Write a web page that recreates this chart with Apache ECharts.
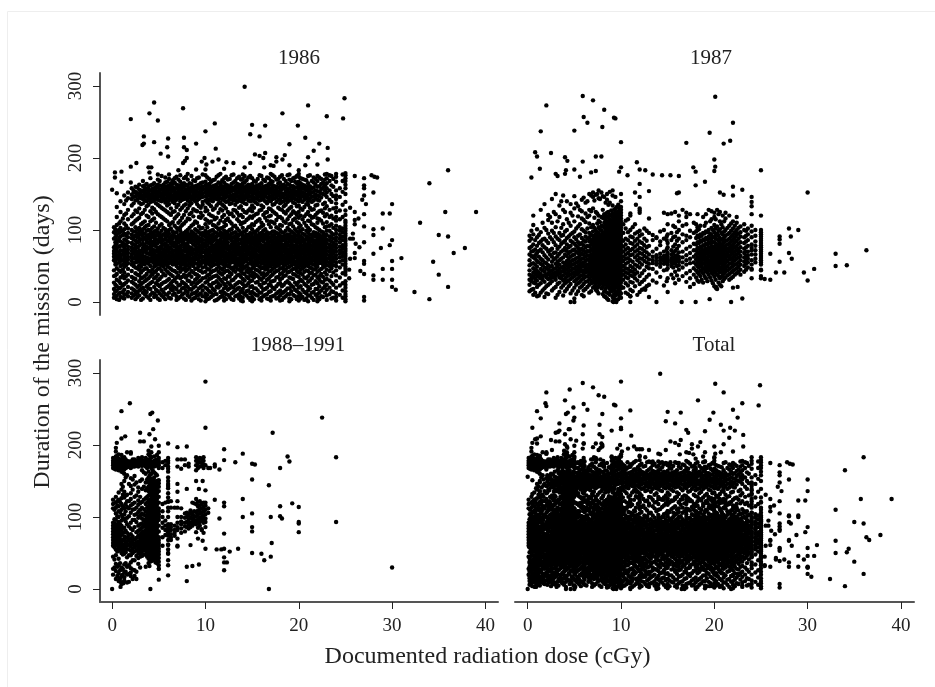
<!DOCTYPE html>
<html><head><meta charset="utf-8">
<style>html,body{margin:0;padding:0;background:#fff}#c{width:935px;height:687px}</style>
<script src="https://cdn.jsdelivr.net/npm/echarts@6/dist/echarts.min.js"></script>
</head><body><div id="c"></div>
<script>
const panelTitles = ['1986','1987','1988–1991','Total'];
const xTicks = [0,10,20,30,40];
const yTicks = [0,100,200,300];
const yTitle = 'Duration of the mission (days)';
const xTitle = 'Documented radiation dose (cGy)';

// Each entry: [dose, [durations read at that dose]]
const columns1986 = [
[0.2,[6,11,18,27,36,44,58,63,67,71,76,88,97,104]],
[0.5,[4,9,16,22,31,39,47,53,60,65,70,74,81,86,93,99,107,118,132,151]],
[0.9,[7,13,20,26,34,42,50,57,62,66,72,78,84,91,98,103,112,125,140]],
[1.3,[5,10,17,25,33,41,49,56,61,64,69,75,80,87,95,101,109,121,136,148]],
[1.7,[8,14,21,30,38,46,54,59,63,68,73,77,83,90,96,102,115,128,144,152]],
[2.1,[6,12,19,28,35,43,52,57,62,66,71,76,82,89,94,100,108,119,134,143,149,158]],
[2.5,[4,11,15,24,32,40,48,55,60,65,70,74,79,85,92,98,104,113,127,141,147,153,160]],
[2.9,[9,16,23,29,37,45,51,58,63,67,72,78,84,88,93,97,103,117,130,138,145,150,156,163]],
[3.3,[5,13,20,27,34,44,53,56,61,64,69,75,81,86,91,96,101,110,124,137,143,148,154,161,168]],
[3.7,[8,14,22,31,39,47,55,59,62,68,73,77,83,87,92,99,106,120,133,140,146,151,157,164]],
[4.1,[3,10,18,26,36,42,50,57,60,66,71,76,80,85,90,95,100,112,126,139,144,149,155,162,172]],
[4.5,[7,12,21,33,41,49,54,58,63,67,72,79,84,89,94,98,105,116,129,141,147,152,158,165]],
[4.9,[5,15,24,30,38,46,52,56,61,65,70,74,82,86,93,97,102,122,135,142,148,153,159,163,170]],
[5.3,[9,17,25,35,43,51,55,59,64,69,75,78,83,88,92,99,108,118,131,140,145,150,156,161,175]],
[5.7,[4,11,19,28,37,45,53,57,62,66,71,77,81,87,91,96,101,114,127,138,143,149,154,160,166,173]],
[6.1,[6,13,23,32,40,48,54,60,65,68,73,76,84,89,95,100,107,123,136,141,146,151,157,162,171,177]],
[6.5,[10,16,22,29,36,44,52,58,63,67,72,79,83,88,93,98,111,125,139,144,148,155,159,164,169]],
[6.9,[3,8,18,27,34,41,50,56,61,66,70,75,80,86,90,97,103,119,132,142,147,152,158,163,174]],
[7.3,[7,15,24,33,42,49,55,59,64,69,74,78,85,89,94,99,104,113,128,140,145,150,156,161,167,176]],
[7.7,[5,12,20,26,38,47,53,57,62,65,71,76,82,87,92,96,109,121,134,143,148,153,160,165,172]],
[8.1,[9,14,21,30,37,45,51,58,63,68,72,77,81,86,91,95,100,116,130,141,146,151,157,162,170,178]],
[8.5,[2,11,17,25,35,43,52,56,60,66,70,75,83,88,93,98,106,124,137,142,147,154,159,164,175]],
[8.9,[6,13,22,31,39,46,54,59,64,67,73,78,84,90,94,101,112,127,140,145,150,155,161,168]],
[9.3,[4,10,19,28,36,44,50,57,61,65,71,76,80,85,89,97,105,118,133,143,148,152,158,163,173]],
[9.7,[8,16,23,33,41,48,55,58,63,69,74,79,82,87,92,96,103,120,135,139,146,151,156,160,166,177]],
[10.0,[1,7,12,20,27,34,42,49,53,56,60,64,68,72,77,81,86,91,95,99,108,115,126,131,141,147,152,157,162,167,176]],
[10.4,[5,15,24,32,38,45,52,57,62,66,70,75,83,88,93,98,110,122,136,142,148,154,159,164,171]],
[10.8,[9,18,26,35,43,51,55,60,65,69,73,78,84,89,94,100,107,119,128,140,145,150,155,161,169]],
[11.2,[3,11,21,29,37,46,53,58,63,67,72,77,81,86,91,96,104,117,134,143,149,153,158,163,174]],
[11.6,[7,14,23,31,40,47,54,59,64,68,71,76,82,87,92,97,102,113,129,138,144,150,156,160,165,178]],
[12.0,[2,6,13,19,25,33,41,48,52,56,61,65,70,74,79,84,88,93,99,105,111,121,133,141,146,151,155,160,166,172]],
[12.4,[10,17,27,36,44,50,57,62,66,73,78,83,89,94,98,116,125,140,147,152,157,162,170]],
[12.8,[4,12,22,30,39,47,55,60,64,69,75,80,85,90,95,101,109,123,137,143,148,154,159,164,176]],
[13.2,[8,16,24,34,42,49,53,58,63,67,72,77,82,86,91,97,106,127,135,141,146,150,156,161,168]],
[13.6,[5,11,20,28,38,45,52,56,61,66,71,76,81,87,93,99,112,120,131,142,147,153,158,163,174]],
[14.0,[1,6,13,18,25,32,40,46,51,55,59,63,68,73,78,83,88,92,97,103,110,118,128,139,144,149,154,160,165,171,177]],
[14.4,[9,15,23,35,43,50,57,62,65,70,74,79,84,89,94,100,114,124,136,145,150,155,161,169]],
[14.8,[3,12,21,29,37,44,54,58,64,69,75,80,85,90,96,105,119,130,140,146,152,157,162,175]],
[15.0,[1,7,14,22,30,36,41,47,52,56,60,66,71,76,82,86,91,95,101,108,117,126,134,142,148,153,158,164,172]],
[15.4,[10,19,27,38,45,53,58,63,68,73,78,83,88,93,98,111,122,138,144,150,156,161,167]],
[15.8,[4,13,24,33,42,49,55,61,65,70,75,81,85,90,95,103,115,127,141,147,152,158,163,176]],
[16.2,[8,17,26,34,40,48,54,59,64,67,72,77,84,89,94,99,107,121,132,143,149,154,160,170]],
[16.6,[5,11,20,31,39,46,52,57,62,66,71,76,82,87,92,97,113,125,137,145,151,156,162,173]],
[17.0,[2,7,15,23,28,36,43,50,55,60,64,69,74,79,85,90,96,104,112,120,129,140,146,152,157,163,168,178]],
[17.4,[9,18,30,41,48,53,58,63,68,73,78,83,88,93,98,109,124,136,144,150,155,161,174]],
[17.8,[6,14,25,35,44,51,56,61,66,71,76,81,86,91,95,102,118,131,142,148,153,159,165,171]],
[18.2,[3,12,22,33,40,47,54,59,65,69,75,80,85,90,97,106,116,128,139,146,151,157,162,176]],
[18.6,[8,16,27,37,45,52,57,62,67,72,77,82,87,92,99,110,123,135,143,149,154,160,168]],
[19.0,[1,5,11,19,26,34,42,49,55,60,64,68,73,78,84,89,94,100,108,119,130,141,147,152,158,163,170,177]],
[19.4,[10,21,32,39,46,53,58,63,69,74,79,85,90,96,105,114,126,138,145,150,156,161,172]],
[19.8,[4,15,24,36,43,50,56,61,66,71,76,81,86,92,98,111,121,133,142,148,153,159,165,175]],
[20.0,[2,8,13,20,28,35,41,48,54,59,63,67,72,77,83,88,93,97,103,109,117,125,134,140,146,151,156,162,167,174,178]],
[20.4,[7,17,29,38,47,52,57,62,68,73,78,84,89,95,101,115,128,139,147,152,158,163,171]],
[20.8,[5,12,23,33,44,51,56,61,65,70,75,80,87,91,99,106,122,136,144,149,155,160,169]],
[21.2,[9,19,30,40,48,54,59,64,69,74,79,83,88,94,100,112,120,131,143,150,156,161,176]],
[21.6,[3,14,25,37,45,52,58,63,67,72,77,82,86,92,97,107,118,129,141,147,153,159,166,173]],
[22.0,[1,6,11,18,26,34,42,49,53,57,62,66,71,76,81,85,90,95,102,110,116,124,135,142,148,154,160,168,175]],
[22.4,[8,16,28,39,46,55,60,65,70,75,80,86,91,98,113,127,145,151,157,164,171]],
[22.8,[13,22,31,41,50,54,59,64,69,74,79,84,89,94,104,119,130,138,149,155,162,170,177]],
[23.0,[3,9,17,24,32,38,45,51,56,61,66,71,76,82,87,93,99,105,111,122,133,146,152,158,165,172,178]],
[23.5,[5,15,27,36,47,53,58,63,68,73,78,84,90,96,108,120,139,150,162,175]],
[24.0,[2,7,12,20,29,37,44,50,55,60,65,70,75,80,85,90,95,100,106,113,118,125,131,137,143,148,155,167,174,178]],
[24.4,[10,23,34,48,56,62,67,72,77,83,88,93,99,104,115,127,146,158]],
[24.7,[6,16,26,40,52,58,64,69,74,79,86,91,97,102,118,135,153,168,177]],
[25.0,[1,4,8,11,15,20,24,29,38,42,46,49,53,57,60,64,67,71,74,78,81,85,88,92,95,99,102,106,110,113,121,127,139,150,158,163,168,172,176,179]]
];
// Second reading of the same cloud, between the columns above
const between1986 = [
[0.35,[8,15,24,37,52,56,61,68,73,79,83,90,95,101]],
[0.75,[3,12,19,29,44,55,59,64,69,77,85,89,96,100,109]],
[1.15,[6,14,23,37,45,52,58,66,71,78,82,93,99,116]],
[1.5,[11,27,36,51,55,60,67,72,79,85,92,106,123,141]],
[2.3,[9,17,26,33,50,54,61,68,74,80,87,91,98,110,122,137,146,152,155]],
[2.7,[7,13,21,38,47,56,59,64,69,76,83,90,95,101,115,125,142,149,151,159]],
[3.1,[3,18,25,33,41,49,55,60,65,71,80,87,94,99,108,122,136,144,147,152,155]],
[3.5,[11,16,29,36,46,52,57,63,70,74,79,89,95,104,112,128,141,146,150,153,158,162]],
[3.9,[6,19,24,33,43,53,58,61,67,75,82,88,93,100,107,118,135,142,147,152,156,160]],
[4.3,[13,28,38,45,56,59,64,69,73,78,83,91,96,103,114,123,131,140,145,150,154,157,163]],
[4.7,[9,17,26,35,43,51,55,60,65,71,77,81,87,92,99,110,125,137,143,146,151,155,160]],
[5.1,[3,12,22,32,47,53,57,62,67,72,76,85,90,95,106,120,133,141,147,152,156,162,168]],
[5.5,[7,14,27,39,49,54,58,63,68,73,80,86,94,103,116,129,142,146,151,155,158,163]],
[5.9,[10,21,30,42,50,56,61,64,70,74,79,85,92,98,112,125,134,140,145,150,153,157,161,167]],
[6.3,[5,18,26,38,46,55,59,63,69,75,81,87,91,102,109,121,130,143,148,152,156,160,165]],
[6.7,[12,20,31,43,53,57,62,65,71,77,82,91,96,106,116,126,137,141,146,150,154,158,166,172]],
[7.1,[5,14,23,37,47,54,60,64,68,72,76,83,87,92,101,110,122,135,144,149,153,157,162,170]],
[7.5,[10,19,28,35,45,52,56,61,66,71,80,84,90,95,107,117,131,142,146,151,155,159,164]],
[7.9,[3,16,24,34,43,50,55,60,64,70,74,79,88,93,98,112,126,136,144,149,152,156,163,174]],
[8.3,[7,18,29,39,48,54,59,62,67,71,76,85,89,94,103,115,122,134,139,145,150,153,158,165]],
[8.7,[5,12,20,27,41,50,55,58,62,68,73,80,86,92,96,108,119,129,143,146,151,156,160,169]],
[9.1,[9,15,26,33,38,47,53,60,66,70,75,82,87,91,99,110,126,136,141,147,153,157,162,172]],
[9.5,[2,12,21,30,43,52,56,62,67,72,77,84,88,94,102,117,124,131,145,149,154,159,165]],
[10.2,[4,10,18,29,37,46,54,59,64,68,73,79,85,90,96,104,113,127,138,143,149,153,158,163,173]],
[10.6,[7,13,22,33,41,49,56,61,64,71,76,81,86,92,99,112,120,133,141,146,151,156,160,167]],
[11.0,[2,11,16,27,36,44,52,58,62,66,71,74,79,87,90,97,106,115,130,144,148,152,157,162,170]],
[11.4,[5,20,25,34,42,50,55,60,65,70,75,80,84,93,101,109,124,137,142,147,151,155,159,166,176]],
[11.8,[9,15,28,38,45,53,57,63,67,73,78,83,90,95,103,118,127,135,143,149,154,158,161,169]],
[12.2,[4,11,22,32,43,51,55,59,64,69,76,81,86,91,97,107,114,130,139,145,150,153,159,163,174]],
[12.6,[7,19,25,35,41,49,54,58,63,68,72,77,88,92,100,112,122,136,142,147,152,156,160,171]],
[13.0,[3,14,20,31,44,48,56,61,65,71,75,80,84,90,96,105,119,128,141,144,149,155,158,166,177]],
[13.4,[9,18,26,37,46,51,55,60,66,70,74,79,85,89,94,102,115,124,139,146,151,154,160,164,172]],
[13.8,[2,7,15,27,35,43,49,54,59,64,69,75,82,87,95,108,121,133,140,145,148,152,157,162,170]],
[14.2,[11,22,30,39,48,56,61,66,72,77,81,86,91,98,111,125,137,143,147,153,156,159,166,175]],
[14.6,[6,16,26,33,41,47,53,60,67,71,76,83,87,93,104,116,127,141,146,149,154,158,163,173]],
[15.2,[4,12,19,34,40,49,55,62,64,69,74,80,85,89,97,107,120,131,140,145,151,155,160,168]],
[15.6,[9,16,28,36,44,51,56,60,65,72,77,82,87,92,100,113,123,136,143,148,153,157,162,171]],
[16.0,[2,6,13,21,31,39,47,53,58,63,68,74,79,86,91,96,105,110,128,134,142,146,150,155,159,165,175]],
[16.4,[10,18,27,37,45,50,56,61,65,70,75,80,88,93,101,117,124,140,147,152,157,161,168]],
[16.8,[4,14,24,33,42,49,54,59,63,68,73,78,83,90,95,108,119,130,141,145,150,155,159,164,172]],
[17.2,[8,20,29,38,46,52,57,62,66,71,76,81,86,92,98,111,126,135,143,148,153,158,162,167,176]],
[17.6,[5,12,22,34,43,50,55,60,65,70,75,80,84,89,96,104,114,122,139,146,151,156,160,170]],
[18.0,[2,9,16,26,31,39,47,53,58,62,67,72,77,82,87,92,100,107,118,129,137,142,147,152,155,160,166,174]],
[18.4,[6,14,24,36,43,50,56,61,64,70,74,79,86,91,96,112,125,133,140,145,150,158,163,171]],
[18.8,[11,19,29,41,48,54,59,63,68,73,78,83,89,94,103,115,127,139,144,148,153,157,164,176]],
[19.2,[4,15,23,33,44,51,57,61,66,71,75,81,86,91,98,109,122,132,142,146,151,155,161,168]],
[19.6,[8,17,27,38,47,52,56,62,67,72,77,84,88,93,101,116,124,137,143,149,154,159,167,173]],
[20.2,[5,11,22,31,40,45,51,56,60,65,70,75,80,85,91,99,106,120,130,141,145,150,155,160,165,172]],
[20.6,[3,14,25,34,42,49,54,59,64,69,72,77,82,86,94,110,119,132,142,146,151,157,162,170]],
[21.0,[1,9,16,21,28,36,43,50,55,60,66,71,76,81,85,90,96,103,113,125,135,140,145,149,154,159,165,175]],
[21.4,[6,13,24,33,41,47,53,57,62,68,73,78,84,89,93,108,117,128,139,146,152,158,168]],
[21.8,[10,18,29,38,46,51,56,61,65,70,75,80,85,91,96,104,121,134,144,149,155,163,171]],
[22.2,[4,13,22,31,36,44,54,58,63,68,73,78,83,88,93,100,115,126,141,147,153,161,173]],
[22.6,[7,19,27,35,48,52,57,62,67,72,77,82,87,92,97,109,124,136,150,159,166]],
[23.3,[11,20,30,43,50,55,60,65,70,75,80,86,91,99,106,118,128,142,155,168,176]],
[23.7,[6,14,24,41,51,57,62,67,72,77,82,88,94,103,116,130,147,160,171]]
];
// Flat dose, duration pairs for isolated dots
const isolated1986 = [14.2,299,24.9,283,4.5,277,7.6,269,4,262,21,273,18.25,262,2,254,4.9,252,23,258,24.75,255,11,248,15,246,16.4,245,19.9,245,10,237,14.8,233,15.8,230,3.4,230,7.7,228,6,227,20.7,228,4.5,222,9,220,3.25,218,3.4,220,19,219,22.2,220,5.9,215,23.1,214,7.7,215,11.1,213,8,211,21.6,210,5.2,206,15.3,205,16.4,207,15.8,203,16.2,200,6,202,8,200,7.8,196,7.6,193,9.9,200,11.4,198,9.6,195,10.75,195,10.1,191,12.25,194,13,193,14.8,193,17.6,201,18.5,204,18.25,198,17.6,195,17,190,21,201,23.1,198,20.7,190,22,191,19,190,2.6,193,2,188,3.9,187,4.2,187,7.1,183,4,180,4.9,177,0.3,180,1,181,0.3,173,1,167,2,166,0,156,9,184,10,184,12,185,14.2,187,16.3,187,17.3,189,20,183,26,175,27,172,27.8,176,28.4,173,28.1,174,27,162,27,158,28,152,27,148,26.8,142,27.2,136,25.5,131,26,125,27,122,26.4,116,26,114,26,108,27,105,28,101,28,93,29,102,29,123,30,136,29.75,123,25.8,95,25.8,88,26.1,81,27,83,30,86,29.75,79,28.8,75,26.5,76,28,67,26,68,26,61,27,57,27,53,30,57,31,61,29,46,30,46,26.6,43,27,39,28,37,28,31,29,31,30,31,30,21,30.4,17,32.4,14,27,7,27,2,34,165,36,183,35.7,125,39,125,33,110,35,93,36,91,36.6,68,37.8,75,34.4,56,35,38,36,21,34,4,25.5,88,25.5,60,25.4,45,25.4,33];

const columns1987 = [
[0.2,[15,24,31,38,44,51,58,66,75,85,92]],
[0.6,[10,18,27,35,41,47,54,62,71,80,94,107,120]],
[1.0,[8,21,30,36,43,49,57,68,78,90,101]],
[1.4,[13,26,33,39,46,53,60,73,84,97,128]],
[1.8,[7,19,28,37,42,48,55,65,76,88,103,136]],
[2.2,[11,24,32,40,45,51,59,70,82,95,114,121]],
[2.6,[16,29,35,38,44,50,56,63,74,87,99,110,143]],
[3.0,[6,21,31,36,41,47,53,61,69,79,91,104,122,150]],
[3.4,[14,27,34,40,46,52,58,67,77,86,96,118,134]],
[3.8,[9,23,30,37,43,49,55,62,72,83,93,108,128,148]],
[4.2,[18,28,35,39,45,51,57,64,71,80,89,100,115,140]],
[4.6,[12,25,32,38,44,50,56,63,70,78,85,94,106,124,136]],
[5.0,[5,20,29,36,41,47,53,59,66,73,81,90,98,112,130,147]],
[5.4,[15,26,33,40,45,50,56,62,68,75,83,92,105,119,133]],
[5.8,[10,22,31,37,43,49,54,60,67,74,82,89,101,116,126,142]],
[6.2,[18,28,35,41,46,51,57,63,69,76,84,91,97,111,123,138]],
[6.6,[13,24,32,38,44,48,53,58,64,70,77,84,90,96,109,120,128,150]],
[7.0,[20,27,34,39,43,47,51,55,59,63,67,71,75,79,83,87,92,98,107,130,146,152]],
[7.3,[17,25,30,35,40,44,48,52,56,60,64,68,72,76,80,84,88,94,100,125,149]],
[7.6,[12,22,28,33,37,41,45,49,53,57,61,65,69,73,77,81,85,90,96,104,113,120,144,155]],
[7.9,[19,26,31,36,40,44,48,52,56,60,64,68,72,76,80,84,89,93,99,106,118,152]],
[8.2,[8,15,24,29,34,38,42,46,50,54,58,62,66,70,74,78,82,86,91,97,103,110,116,122,146]],
[8.5,[5,13,21,27,32,36,40,44,48,52,56,60,64,68,72,76,80,84,88,92,96,101,106,112,119,124,142,150]],
[8.8,[10,18,25,30,35,39,43,47,51,55,59,63,67,71,75,79,83,87,91,95,100,105,110,115,121,138,153]],
[9.1,[1,7,16,23,28,33,37,41,45,49,53,57,61,65,69,73,77,81,85,89,93,97,102,107,112,118,123,134,148,155]],
[9.4,[2,9,14,20,26,31,35,39,43,47,51,55,59,63,67,71,75,79,83,87,91,95,99,104,109,114,119,125,130,146]],
[9.7,[4,11,17,24,29,34,38,42,46,50,54,58,62,66,70,74,78,82,86,90,94,98,103,108,113,117,122,126,135]],
[10.0,[6,12,19,22,27,32,36,40,44,48,52,56,60,64,68,72,76,80,84,88,92,96,100,104,108,112,116,120,124,128,132,140,150]],
[10.5,[13,26,35,41,47,53,60,66,73,80,88,102,113]],
[11.0,[8,17,28,37,43,50,58,65,72,82,91,100,120,123]],
[11.5,[22,33,39,45,52,62,70,77,85,95,108]],
[12.0,[14,25,36,48,55,61,68,75,84,92,99,124,127,130]],
[12.5,[19,31,44,57,64,71,79,88,102]],
[13.0,[24,38,47,53,59,66,78,96,116]],
[13.4,[30,46,54,58,63,70,86,93]],
[13.8,[27,41,52,56,61,65,74,90,89]],
[14.2,[35,49,54,58,62,67,79,84,98]],
[14.6,[23,44,53,57,60,64,70,88,100,124]],
[15.0,[33,47,52,56,59,63,68,76,82,94,108,122]],
[15.4,[38,50,55,58,61,66,72,86,96,123]],
[15.8,[26,42,53,57,60,64,71,80,91,104,125]],
[16.2,[31,45,51,56,59,63,69,78,88,100,112,120]],
[16.6,[36,48,55,62,70,83,94,106,128]],
[17.0,[28,40,52,58,65,74,86,92,108,124,118]],
[17.4,[33,43,54,60,68,77,90,99,122]],
[17.8,[25,38,47,55,63,72,81,96,110]],
[18.2,[30,41,50,56,62,68,75,83,92,100,104,122]],
[18.5,[36,44,52,58,64,70,77,85,94,106]],
[18.8,[27,40,47,54,60,66,72,79,87,96,118]],
[19.1,[33,43,50,56,62,68,74,81,89,98,110,122]],
[19.4,[38,45,52,58,64,70,76,83,91,100,128]],
[19.7,[30,41,48,54,60,66,72,78,85,93,103,115,126]],
[20.0,[22,35,43,50,56,62,67,72,77,83,90,97,107,118,124]],
[20.3,[18,38,46,52,58,63,68,74,80,87,95,105,128]],
[20.6,[24,33,41,48,54,60,65,70,76,82,89,101,112,125]],
[20.9,[29,37,44,50,56,62,67,73,79,86,94,104,120]],
[21.2,[34,42,48,55,61,66,72,78,85,92,100,116,124]],
[21.6,[31,39,46,53,59,64,70,75,81,88,96,106,120]],
[22.0,[35,43,50,56,62,68,74,80,87,94,102,112]],
[22.4,[40,47,53,60,66,72,78,85,93,100,110,118]],
[22.8,[38,45,52,58,64,70,76,83,91,97,105]],
[23.2,[42,50,56,62,68,74,82,90,100,108]],
[23.6,[48,55,60,65,70,78,86,94,102]],
[24.0,[33,46,52,58,66,72,75,80,90,98,106,122,133]],
[24.4,[55,60,66,72,78,84,92,100]],
[25.0,[36,44,52,55,58,61,64,67,70,73,76,79,82,85,88,91,94,97,100,120]]
];
const between1987 = [
[0.4,[17,29,33,37,53,64,70,77,88,99]],
[0.8,[13,26,32,39,45,52,60,65,73,86]],
[1.2,[9,24,35,38,41,55,63,71,82,93]],
[1.6,[16,31,36,44,51,58,69,79,87,110]],
[2.0,[12,22,34,38,47,54,62,74,85,100]],
[2.4,[26,33,37,42,49,66,72,90,118]],
[2.8,[19,34,40,46,59,68,83,96,125]],
[3.2,[10,25,38,43,50,56,64,74,88,112]],
[3.6,[20,33,36,42,48,60,70,81,92,103,140]],
[4.0,[15,26,32,41,47,53,66,75,85,98,125]],
[4.4,[22,30,37,42,48,54,60,68,76,91,110]],
[4.8,[16,34,40,46,52,58,65,72,83,96,120]],
[5.2,[11,24,31,38,43,49,55,61,70,78,87,102,137]],
[5.6,[20,28,36,42,47,52,58,65,71,80,94,108,128]],
[6.0,[8,16,25,33,39,44,50,55,61,66,72,79,86,99,114,145]],
[6.4,[21,29,36,42,47,52,59,65,71,78,88,102,118,140]],
[6.8,[15,26,30,36,41,46,50,55,60,66,73,80,86,93,104,126,148]],
[7.15,[22,29,33,37,42,46,50,54,58,62,66,70,74,78,82,86,90,103,117,141]],
[7.45,[15,20,27,32,38,42,46,50,54,58,62,66,70,74,78,82,86,91,97,109,123,150]],
[7.75,[25,30,35,39,43,47,51,55,59,63,67,71,75,79,83,87,92,101,111,143]],
[8.05,[11,21,27,32,36,41,45,49,53,57,61,65,69,73,77,81,85,90,95,105,117,128,147]],
[8.35,[7,18,26,31,35,39,43,47,51,55,59,63,67,71,75,79,83,88,94,100,108,114,120,138]],
[8.65,[3,12,23,28,34,38,42,46,50,54,58,62,66,70,74,78,82,86,90,94,99,104,109,117,125,135]],
[8.95,[15,20,27,32,36,41,45,49,53,57,61,65,69,73,77,81,85,89,93,98,103,108,113,120,127]],
[9.25,[5,11,18,25,29,34,38,42,46,50,54,58,62,66,70,74,78,82,86,90,94,98,101,106,111,116,121,128]],
[9.55,[3,13,22,27,32,36,40,44,48,52,56,60,64,68,72,76,80,84,88,92,96,100,105,110,115,120,124,132]],
[9.85,[8,15,21,26,30,34,38,42,46,50,54,58,62,66,70,74,78,82,86,90,94,98,102,106,110,114,118,122,126,130]],
[10.25,[20,31,38,44,50,57,63,70,77,85,96,108]],
[10.75,[11,23,33,40,46,55,61,68,75,86,97,115]],
[11.25,[15,27,36,42,48,56,66,74,81,90,104]],
[11.75,[10,30,41,50,58,65,72,80,88,97]],
[12.25,[17,28,40,52,60,67,74,82,94]],
[12.75,[22,35,49,55,62,69,76,85,99]],
[14.9,[29,45,54,57,61,65,73,86,91]],
[15.6,[33,48,54,58,62,68,77,90,106]],
[16.0,[37,50,57,60,65,74,85,97]],
[18.05,[34,44,52,59,66,72,80,89,98,108]],
[18.35,[28,39,48,55,61,67,74,82,90,101]],
[18.65,[31,43,50,57,63,69,75,84,92]],
[18.95,[36,46,53,59,65,71,78,86,95,106]],
[19.25,[29,41,48,55,60,67,73,80,87,97]],
[19.55,[34,44,50,57,63,69,75,82,88,95,112]],
[19.85,[26,39,46,52,58,64,70,76,83,90,100]],
[20.15,[31,41,48,54,60,65,70,75,81,88,93,102,115]],
[20.45,[27,36,44,50,55,61,66,72,78,85,92,99,122]],
[20.75,[22,35,42,47,53,58,64,69,74,80,87,96,108]],
[21.05,[32,40,46,52,59,64,70,76,83,90,98,112]],
[21.4,[37,44,50,57,63,68,74,80,86,94,103]],
[21.8,[33,41,48,54,60,66,72,77,84,91,99,109]],
[22.2,[38,45,52,58,64,70,76,83,90,97,106]],
[22.6,[42,49,55,62,68,74,81,88,95,103]],
[23.4,[45,53,59,64,70,76,84,92,99]]
];
const isolated1987 = [5.9,286,7,280,2,273,8.2,267,6,257,9.25,256,9.4,255,6.4,249,8,243,1.4,237,5,238,10,222,20.1,285,22,249,19.5,235,17,221,21,220,21.7,224,0.8,208,1,202,2.5,207,4,201,4.25,196,5.9,195,7.3,202,7.9,202,11.7,194,20,198,20.1,188,20,182,25,183,17.75,187,18,181,10,187,9.8,181,12,184,12.6,183,13.4,177,14.4,176,15.3,176,16.2,175,1.3,185,0.4,173,3,178,3.2,175,4,178,5,184,4.1,183,5.6,174,6.8,180,7.3,182,10.7,176,12,164,18,162,19,167,22,160,23,156,13,154,11.5,152,12,146,16.2,152,16,151,20.6,152,21,149,22,148,24,146,24,139,30,152,11.6,135,28,102,29,100,28.2,91,27,91,27,87,27,81,26,67,28,68,27,56,28.3,60,33,67,36.3,72,33,50,34.2,51,30.7,46,29.6,41,30,30,27.5,41,26.6,41,26,31,25,33,25.4,32,4.6,0,5,0,9.2,0,9.5,0,11,0,13.8,0,16.5,0,18,0,19.5,4,21.8,0,23,5,11,8,13,7,12.6,17,15,14,17.4,21,20.2,21,20.2,19,22,20,22.5,21,25,45,24,45];

const columns1988 = [
[0.1,[20,28,45,60,64,68,72,76,80,84,88,92,112,118,124,168,172,175,178,182]],
[0.4,[14,25,35,47,55,62,66,70,74,78,82,86,90,96,105,113,120,128,166,170,173,176,179,184,191,196]],
[0.7,[11,22,33,42,53,58,63,67,71,75,79,83,87,93,100,108,115,124,134,165,169,172,175,178,181,187]],
[1.0,[7,18,27,30,50,56,61,65,76,82,88,95,103,110,118,126,138,146,163,167,171,174,177,180,186]],
[1.3,[12,16,24,34,49,57,62,68,73,79,85,97,104,112,127,135,150,160,166,170,173,176,179,183]],
[1.6,[9,20,31,44,55,60,66,72,78,90,99,114,122,131,158,169,172,175,178,190]],
[2.0,[23,29,37,47,53,59,64,70,76,84,92,106,116,125,133,143,154,168,171,174,177,190,188]],
[2.4,[18,26,40,52,58,63,69,86,96,103,111,120,128,145,157,170,173,176,180]],
[2.8,[35,43,50,56,61,66,74,81,88,99,107,117,123,135,141,170,173,177,182]],
[3.2,[46,52,57,62,67,73,79,85,91,98,105,113,121,139,152,165,171,174,179,183]],
[3.6,[48,53,58,63,68,72,77,82,87,92,97,102,108,118,126,137,148,160,170,173,176,182]],
[3.9,[36,42,47,52,56,60,64,68,72,76,80,84,88,92,96,100,104,110,115,123,130,136,142,148,155,163,171,175,180,187,192]],
[4.2,[39,44,49,53,57,61,65,69,73,77,81,85,89,93,97,101,105,109,113,117,121,125,129,133,137,141,145,149,153,160,168,173,177,183,190,198]],
[4.5,[42,46,50,54,58,62,66,70,74,78,82,86,90,94,98,102,106,110,114,118,122,126,130,134,138,142,146,150,155,162,170,174,178,184]],
[4.8,[36,41,45,49,53,57,61,65,69,73,77,81,85,89,93,97,101,105,109,113,117,121,125,129,133,137,141,145,150,158,172,176,180,186]],
[5.0,[28,33,38,43,48,52,56,60,64,68,72,80,88,96,100,104,108,112,120,128,136,142,147,151,168,172,175,178,182,190]],
[6.0,[50,55,62,68,74,79,83,86,90,100,108,113,121,122,127,133,140,143,146,150,155,163,167,170,175,178,182]],
[6.3,[68,72,76,82,86,90,113,122]],
[6.7,[74,78,82,88,113]],
[7.0,[60,70,82,86,92,100,113,122,170,180]],
[7.4,[78,84,90,94,100,112,167,180]],
[7.8,[80,87,92,99,105,172,180]],
[8.2,[84,90,96,102,105,170,174]],
[8.6,[88,93,98,104,106,120]],
[9.0,[79,90,95,101,107,118,125,165,172,178,183]],
[9.4,[88,93,99,105,110,116,122,170,176,182]],
[9.8,[78,92,97,102,108,114,120,168,173,178,183]],
[10.0,[93,98,104,110,116,120,172]],
[10.3,[106,112,168]]
];
const between1988 = [
[0.25,[30,41,58,74,79,86,91,97,110,167,171,177,180]],
[0.55,[18,31,52,61,69,76,83,89,101,116,122,169,174,177,180,185]],
[0.85,[15,26,36,56,59,69,73,81,85,90,107,121,168,172,176,180]],
[1.15,[9,20,28,48,54,60,68,78,85,99,115,131,142,162,168,172,175,178,182]],
[1.45,[24,36,51,59,64,71,81,94,108,118,130,155,168,172,176,180]],
[1.8,[21,33,47,55,62,68,75,87,101,112,122,146,170,174,177]],
[2.2,[14,27,40,50,56,62,67,73,82,96,110,118,138,152,170,175,180]],
[2.6,[24,46,54,60,65,71,79,93,104,113,130,148,171,175,178]],
[3.0,[45,49,54,59,64,70,76,83,90,102,110,119,128,150,172,176,180]],
[3.4,[48,55,60,65,70,75,80,88,95,103,111,124,142,162,172,175,178]],
[3.75,[45,50,55,59,64,70,75,80,85,90,94,100,107,113,120,128,140,152,168,174,178]],
[4.05,[38,43,48,51,55,59,63,67,71,75,79,83,87,91,95,99,103,107,112,118,124,131,138,146,152,158,170,174,179,185]],
[4.35,[40,45,47,51,55,59,63,67,71,75,79,83,87,91,95,99,103,107,111,115,119,123,127,131,135,139,143,147,152,165,172,176]],
[4.65,[37,43,48,52,56,60,64,68,72,76,80,84,88,92,96,100,104,108,112,116,120,124,128,132,136,140,144,148,160,171,175,179]],
[5.4,[60,72,85,92,100,108,118,168,176]],
[5.7,[75,82,88,95,120,172,178]],
[8.0,[86,93,100,106]],
[8.4,[86,92,99,105,109]],
[8.8,[91,96,101,108,119]],
[9.2,[85,92,97,103,109,115,121,168,175,180]],
[9.6,[83,95,100,106,112,118,171,176,181]]
];
const isolated1988 = [10,288,1.9,258,1,247,4.3,245,4.1,243,4.9,234,22.5,238,10,224,0.5,224,4.4,222,3,217,17.2,217,4,215,1.4,212,1,209,4.6,208,3,205,3.4,205,0.5,203,6,202,5,199,7,197,8,198,12,194,14,188,18.8,184,24,183,19,177,12,179,13.2,176,15,174,15.3,173,18,168,11,173,11,170,10.5,168,11.5,166,15,152,16.8,144,9,150,9.7,150,7,146,7,135,8,139,9.3,139,10,137,11,124,14,125,12,120,12,115,18,115,19.3,119,20,114,15,105,14,100,11.5,98,17,100,18,101,18.2,98,20,93,20,91,24,93,15,86,15,80,12,77,20,79,17.1,64,8.4,61,9.7,67,10,56,11.2,55,11.7,55,12,56,12.6,52,13.5,56,15,50,16,49,16.3,40,17,45,12,44,12,37,12.3,37,12,26,8,31,8.6,32,9.3,34,8,11,30,30,16.8,0,0,0,0.9,3,4.1,0,5,13,6,19,2.6,14,1.8,10,6,33,6,40,6,49,6,61,3,30,3.6,31,4,32,5,28,7,59,9.2,70,9.6,82,10,86,0.8,14,1.2,8,0.9,10,2,18];

const toPairs = flat => flat.reduce((out, v, i) => (i % 2 ? out[out.length - 1].push(v) : out.push([v]), out), []);
const expand = cols => cols.flatMap(([d, ys]) => ys.map(y => [d, y]));
const data1986 = expand(columns1986).concat(expand(between1986), toPairs(isolated1986));
const data1987 = expand(columns1987).concat(expand(between1987), toPairs(isolated1987));
const data1988 = expand(columns1988).concat(expand(between1988), toPairs(isolated1988));
const dataTotal = data1986.concat(data1987, data1988);
const panelData = [data1986, data1987, data1988, dataTotal];

const font = '"Liberation Serif","Times New Roman",serif';
const grids = [
  {left:100,top:73,width:398,height:242},
  {left:515,top:73,width:399,height:242},
  {left:100,top:360,width:398,height:242},
  {left:515,top:360,width:399,height:242}
];
const axisLine = {lineStyle:{color:'#555',width:2}};
const xAxes = grids.map((g,i)=>({
  type:'value',gridIndex:i,
  min:i%2?-1.36:-1.3,max:i%2?41.4:41.35,
  show:i>=2,splitLine:{show:false},
  axisLine:{...axisLine,onZero:false},
  axisTick:{length:7,lineStyle:{color:'#222',width:1},customValues:xTicks},
  axisLabel:{color:'#222',fontFamily:font,fontSize:19,margin:15,customValues:xTicks}
}));
const yAxes = grids.map((g,i)=>({
  type:'value',gridIndex:i,min:-18,max:318,
  show:i%2===0,splitLine:{show:false},
  axisLine:{...axisLine,onZero:false},
  axisTick:{length:7,lineStyle:{color:'#222',width:1},customValues:yTicks},
  axisLabel:{color:'#222',fontFamily:font,fontSize:19,margin:24,rotate:90,customValues:yTicks,verticalAlign:'middle',align:'center'}
}));
const centers = [[299,58],[711,58],[298,345],[714,345]];
const chart = echarts.init(document.getElementById('c'),null,{renderer:'canvas'});
chart.setOption({
  animation:false,backgroundColor:'#fff',
  grid:grids,xAxis:xAxes,yAxis:yAxes,
  title:panelTitles.map((t,i)=>({text:t,left:centers[i][0],top:centers[i][1],textAlign:'center',textVerticalAlign:'middle',padding:0,
    textStyle:{fontFamily:font,fontSize:21,fontWeight:'normal',color:'#222'}})),
  series:panelData.map((d,i)=>({type:'scatter',xAxisIndex:i,yAxisIndex:i,data:d,symbol:'circle',symbolSize:4.4,
    itemStyle:{color:'#000',opacity:1},silent:true,progressive:0,large:false})),
  graphic:[
    {type:'line',shape:{x1:7.5,y1:11.5,x2:935,y2:11.5},style:{stroke:'#eeeeee',lineWidth:1}},
    {type:'line',shape:{x1:7.5,y1:11.5,x2:7.5,y2:687},style:{stroke:'#eeeeee',lineWidth:1}},
    {type:'text',x:487.5,y:657,style:{text:xTitle,fontFamily:font,fontSize:24,fill:'#222',textAlign:'center',textVerticalAlign:'middle'}},
    {type:'text',x:43,y:342,rotation:Math.PI/2,style:{text:yTitle,fontFamily:font,fontSize:24,fill:'#222',textAlign:'center',textVerticalAlign:'middle'}}
  ]
});
</script></body></html>
